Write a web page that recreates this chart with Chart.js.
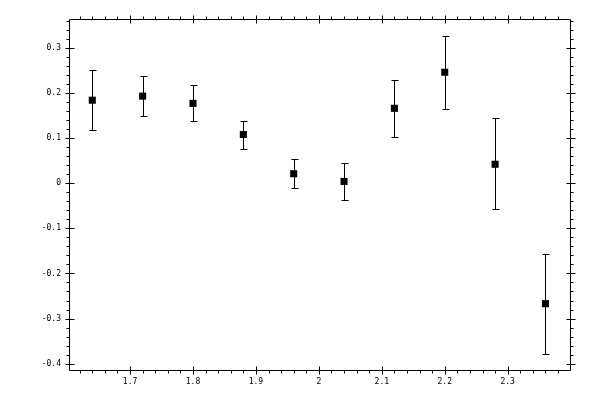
<!DOCTYPE html>
<html>
<head>
<meta charset="utf-8">
<script src="https://cdn.jsdelivr.net/npm/chart.js@4"></script>
<style>
  html, body { margin: 0; padding: 0; background: #fff; }
  canvas { display: block; }
</style>
</head>
<body>
<canvas id="chart" width="600" height="400"></canvas>
<script>
// measured points
const xValues = [1.64, 1.72, 1.80, 1.88, 1.96, 2.04, 2.12, 2.20, 2.28, 2.36];
const yValues = [0.184, 0.193, 0.177, 0.108, 0.021, 0.004, 0.166, 0.246, 0.042, -0.267];
// error bar ends
const yHigh = [0.250, 0.237, 0.217, 0.138, 0.053, 0.044, 0.228, 0.327, 0.144, -0.157];
const yLow = [0.119, 0.148, 0.137, 0.075, -0.010, -0.038, 0.102, 0.164, -0.058, -0.378];

const points = xValues.map((x, i) => ({ x: x, y: yValues[i] }));

const MINOR = 0.02;
const px = v => Math.round(v) + 0.5;

// vertical error bars with small caps
const errorBars = {
  id: 'errorBars',
  beforeDatasetsDraw(chart) {
    const { ctx, scales: { x, y } } = chart;
    ctx.save();
    ctx.strokeStyle = '#000';
    ctx.lineWidth = 1;
    ctx.beginPath();
    xValues.forEach((xv, i) => {
      const cx = px(x.getPixelForValue(xv));
      const top = px(y.getPixelForValue(yHigh[i]));
      const bot = px(y.getPixelForValue(yLow[i]));
      ctx.moveTo(cx, top); ctx.lineTo(cx, bot);
      ctx.moveTo(cx - 3, top); ctx.lineTo(cx + 4, top);
      ctx.moveTo(cx - 3, bot); ctx.lineTo(cx + 4, bot);
    });
    ctx.stroke();
    ctx.restore();
  }
};

// box frame with major (crossing) and minor (outward) ticks on all sides
const frame = {
  id: 'frame',
  afterDraw(chart) {
    const { ctx, chartArea: a, scales: { x, y } } = chart;
    const L = px(a.left), R = px(a.right), T = px(a.top), B = px(a.bottom);
    ctx.save();
    ctx.strokeStyle = '#000';
    ctx.lineWidth = 1;
    ctx.beginPath();
    ctx.rect(L, T, R - L, B - T);

    // minor ticks
    for (let k = Math.ceil(x.min / MINOR); k * MINOR <= x.max; k++) {
      const p = px(x.getPixelForValue(k * MINOR));
      ctx.moveTo(p, B); ctx.lineTo(p, B + 3);
      ctx.moveTo(p, T); ctx.lineTo(p, T - 3);
    }
    for (let k = Math.ceil(y.min / MINOR); k * MINOR <= y.max; k++) {
      const p = px(y.getPixelForValue(k * MINOR));
      ctx.moveTo(L, p); ctx.lineTo(L - 3, p);
      ctx.moveTo(R, p); ctx.lineTo(R + 3, p);
    }
    // major ticks
    x.ticks.forEach(t => {
      if (t.value <= x.min + 1e-9 || t.value >= x.max - 1e-9) return;
      const p = px(x.getPixelForValue(t.value));
      ctx.moveTo(p, B - 4); ctx.lineTo(p, B + 4);
      ctx.moveTo(p, T - 4); ctx.lineTo(p, T + 4);
    });
    y.ticks.forEach(t => {
      const p = px(y.getPixelForValue(t.value));
      ctx.moveTo(L - 4, p); ctx.lineTo(L + 5, p);
      ctx.moveTo(R - 4, p); ctx.lineTo(R + 5, p);
    });
    ctx.stroke();
    ctx.restore();
  }
};

const tickFont = { family: 'DejaVu Sans Mono', size: 8 };

new Chart(document.getElementById('chart'), {
  type: 'scatter',
  data: {
    datasets: [{
      data: points,
      pointStyle: 'rect',
      pointRadius: 5,
      pointHoverRadius: 5,
      backgroundColor: '#000',
      borderColor: '#000',
      borderWidth: 0
    }]
  },
  options: {
    responsive: false,
    animation: false,
    devicePixelRatio: 1,
    layout: { padding: { top: 19, right: 30, left: 0, bottom: 0 } },
    plugins: { legend: { display: false }, tooltip: { enabled: false } },
    scales: {
      x: {
        type: 'linear',
        min: 1.603,
        max: 2.399,
        grid: { display: false, drawTicks: false },
        border: { display: false },
        afterFit: s => { s.height = 30; },
        ticks: {
          stepSize: 0.1,
          includeBounds: false,
          padding: 7,
          color: '#000',
          font: tickFont,
          maxRotation: 0,
          autoSkip: false,
          callback: v => String(Math.round(v * 10) / 10)
        }
      },
      y: {
        min: -0.414,
        max: 0.364,
        grid: { display: false, drawTicks: false },
        border: { display: false },
        afterFit: s => { s.width = 69; },
        ticks: {
          stepSize: 0.1,
          includeBounds: false,
          padding: 8,
          color: '#000',
          font: tickFont,
          autoSkip: false,
          callback: v => String(Math.round(v * 10) / 10)
        }
      }
    }
  },
  plugins: [errorBars, frame]
});
</script>
</body>
</html>
